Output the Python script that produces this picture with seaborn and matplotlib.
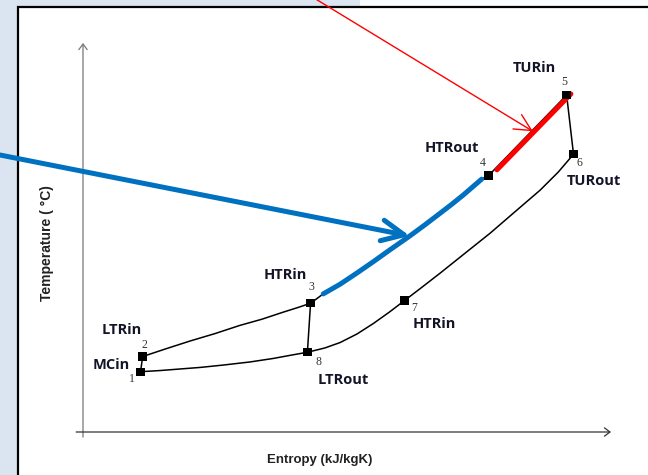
import numpy as np
import pandas as pd
import seaborn as sns
import matplotlib.pyplot as plt
from matplotlib.patches import Rectangle

# state points of the cycle (arbitrary entropy / temperature units)
state_no = ["1", "2", "3", "4", "5", "6", "7", "8"]
state_name = ["MCin", "LTRin", "HTRin", "HTRout", "TURin", "TURout", "HTRin", "LTRout"]
s_pts = [10.9, 11.3, 43.1, 76.8, 91.6, 92.9, 60.9, 42.5]
T_pts = [15.5, 19.4, 33.1, 65.9, 86.6, 71.4, 33.8, 20.5]

# process curves
s_18 = [10.9, 14.6, 18.4, 22.2, 26.5, 31.6, 36.0, 39.2, 42.5]
T_18 = [15.5, 15.8, 16.2, 16.6, 17.2, 18.0, 18.9, 19.7, 20.5]
s_23 = [11.3, 15.5, 20.3, 25.0, 29.7, 33.9, 37.9, 40.7, 43.1]
T_23 = [19.4, 21.3, 23.4, 25.3, 27.4, 29.0, 30.8, 32.0, 33.1]
s_876 = [42.5, 45.8, 48.7, 51.9, 55.0, 58.1, 60.9, 63.8, 67.6, 72.3, 77.1, 81.8, 86.6, 90.0, 92.9]
T_876 = [20.5, 21.6, 23.0, 25.2, 27.9, 30.9, 33.8, 36.8, 40.8, 45.9, 51.1, 56.6, 62.2, 66.8, 71.4]
s_34 = [43.1, 45.5, 48.7, 51.8, 54.9, 58.1, 61.9, 64.8, 67.6, 69.9, 72.0, 75.5, 76.8]
T_34 = [33.1, 35.5, 38.0, 40.8, 43.7, 46.8, 50.4, 53.3, 56.2, 58.6, 60.9, 65.0, 65.9]
s_hot = [78.4, 92.4]
T_hot = [67.4, 86.9]

# where the two call-out arrows point
blue_tip = (61.9, 50.4)
red_tip = (85.2, 77.3)

# label offsets in pixels: (number dx, dy, name dx, dy)
offs = {
    "1": (-9, -7, -29, 7),
    "2": (2, 12, -21, 27),
    "3": (1, 16, -25, 28),
    "4": (-6, 13, -37, 28),
    "5": (-2, 13, -32, 27),
    "6": (6, -9, 20, -27),
    "7": (10, -7, 30, -23),
    "8": (11, -10, 36, -28),
}

pts = pd.DataFrame({"s": s_pts, "T": T_pts, "no": state_no, "name": state_name})

sns.set_theme(style="white")
plt.rcParams["font.family"] = ["Liberation Sans", "DejaVu Sans"]

fig = plt.figure(figsize=(6.48, 4.75), dpi=100)
fig.patch.set_facecolor("#dbe5f1")
W, H = 648, 475

# white slide box and the pale strip at top right
fig.add_artist(Rectangle((18 / W, -0.02), 1.0, (H - 7) / H + 0.02, transform=fig.transFigure,
                         facecolor="white", edgecolor="black", lw=1.6, zorder=-5))
fig.add_artist(Rectangle((360 / W, (H - 8) / H), 1.0, 0.05, transform=fig.transFigure,
                         facecolor="#fafbfc", edgecolor="none", zorder=-6))

ax = fig.add_axes([83 / W, (H - 432) / H, 528 / W, 389 / H])
ax.set_facecolor("none")
ax.set_xlim(0, 100)
ax.set_ylim(0, 100)
ax.set_xticks([])
ax.set_yticks([])
for sp in ax.spines.values():
    sp.set_visible(False)

# axis arrows
ax.annotate("", xy=(0, 1.0), xytext=(0, -0.013), xycoords="axes fraction",
            arrowprops=dict(arrowstyle="->,head_length=4,head_width=3", mutation_scale=1,
                            color="#777777", lw=0.9, shrinkA=0, shrinkB=0))
ax.annotate("", xy=(1.0, 0), xytext=(-0.013, 0), xycoords="axes fraction",
            arrowprops=dict(arrowstyle="->,head_length=4,head_width=3", mutation_scale=1,
                            color="#333333", lw=0.9, shrinkA=0, shrinkB=0))

# cycle lines
lk = dict(sort=False, estimator=None, color="black", lw=1.1, ax=ax)
sns.lineplot(x=s_18, y=T_18, **lk)
sns.lineplot(x=s_23, y=T_23, **lk)
sns.lineplot(x=s_876, y=T_876, **lk)
sns.lineplot(x=s_34, y=T_34, **lk)
sns.lineplot(x=[s_pts[1], s_pts[0]], y=[T_pts[1], T_pts[0]], **lk)
sns.lineplot(x=[s_pts[2], s_pts[7]], y=[T_pts[2], T_pts[7]], **lk)
sns.lineplot(x=[s_pts[3], s_pts[4]], y=[T_pts[3], T_pts[4]], **lk)
sns.lineplot(x=[s_pts[4], s_pts[5]], y=[T_pts[4], T_pts[5]], **lk)

# highlighted heat input paths
sns.lineplot(x=s_34[1:-1], y=T_34[1:-1], sort=False, estimator=None, color="#0070c0", lw=3.6, ax=ax)
sns.lineplot(x=s_hot, y=T_hot, sort=False, estimator=None, color="#ff0000", lw=3.6, ax=ax)

sns.scatterplot(data=pts, x="s", y="T", marker="s", s=36, color="black", edgecolor="none",
                ax=ax, zorder=5)

for _, r in pts.iterrows():
    ndx, ndy, tdx, tdy = offs[r["no"]]
    ax.annotate(r["no"], (r["s"], r["T"]), xytext=(ndx, ndy), textcoords="offset pixels",
                ha="center", va="center", fontsize=8.5, color="#333333",
                family=["Liberation Serif", "DejaVu Serif"])
    ax.annotate(r["name"], (r["s"], r["T"]), xytext=(tdx, tdy), textcoords="offset pixels",
                ha="center", va="center", fontsize=10.5, fontweight="bold", color="#141428",
                family=["Open Sans", "DejaVu Sans"])

# call-out arrows from outside the chart
ax.annotate("", xy=blue_tip, xytext=(0, H - 155), textcoords="figure pixels",
            arrowprops=dict(arrowstyle="->,head_length=16,head_width=7.5", mutation_scale=1,
                            color="#0070c0", lw=3.6, shrinkA=0, shrinkB=0),
            annotation_clip=False)
ax.annotate("", xy=red_tip, xytext=(314, H + 2), textcoords="figure pixels",
            arrowprops=dict(arrowstyle="->,head_length=12,head_width=6", mutation_scale=1,
                            color="#ff0000", lw=1.0, shrinkA=0, shrinkB=0),
            annotation_clip=False)

fig.text(46.7 / W, 1 - 243 / H, "Temperature ( °C)", rotation=90, ha="center", va="center",
         fontsize=10, fontweight="bold", color="#222222")
fig.text(320 / W, 1 - 460 / H, "Entropy (kJ/kgK)", ha="center", va="center",
         fontsize=9.5, fontweight="bold", color="#222222")

fig.savefig("out.png", dpi=100, facecolor=fig.get_facecolor())
